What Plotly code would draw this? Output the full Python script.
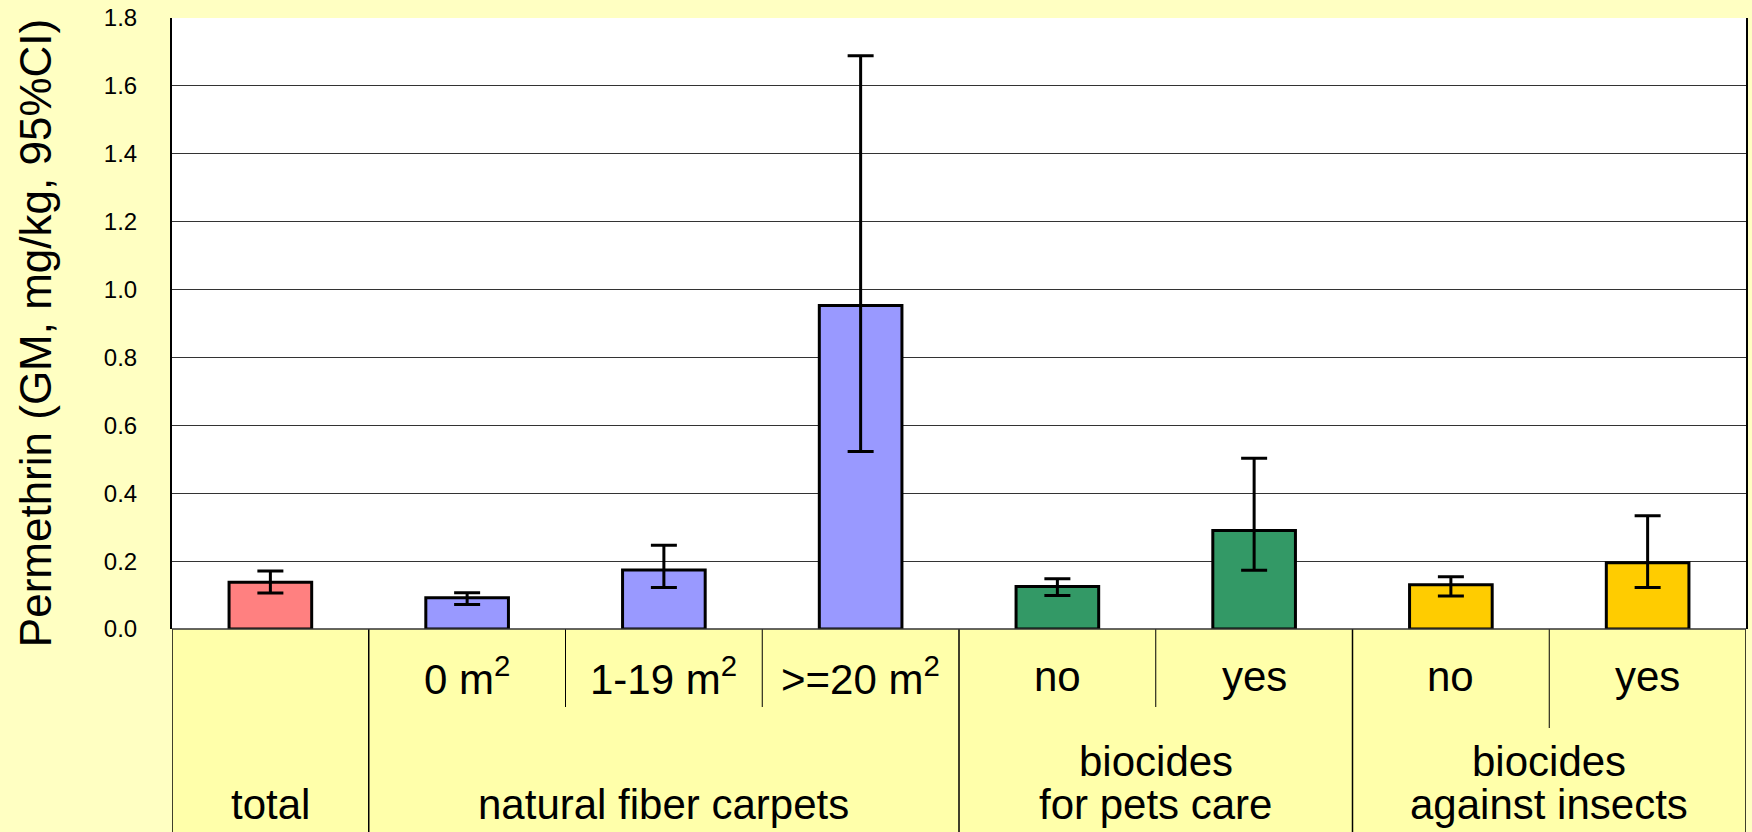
import plotly.graph_objects as go

# ---------------- data ----------------
groups = [["total"], ["natural fiber carpets"], ["biocides", "for pets care"], ["biocides", "against insects"]]
group_sizes = [1, 3, 2, 2]
subcats = ["", "0 m<sup>2</sup>", "1-19 m<sup>2</sup>", ">=20 m<sup>2</sup>", "no", "yes", "no", "yes"]
gm = [0.138, 0.092, 0.174, 0.953, 0.125, 0.290, 0.130, 0.195]
ci_low = [0.106, 0.072, 0.122, 0.523, 0.099, 0.173, 0.097, 0.122]
ci_high = [0.171, 0.107, 0.247, 1.689, 0.148, 0.503, 0.154, 0.334]
bar_colors = ["#FF8080", "#9999FF", "#9999FF", "#9999FF", "#339966", "#339966", "#FFCC00", "#FFCC00"]
y_tickvals = [0.0, 0.2, 0.4, 0.6, 0.8, 1.0, 1.2, 1.4, 1.6, 1.8]
y_ticktext = ["0.0", "0.2", "0.4", "0.6", "0.8", "1.0", "1.2", "1.4", "1.6", "1.8"]
y_title = "Permethrin (GM, mg/kg, 95%CI)"

# ---------------- layout geometry ----------------
W, H = 1752, 832
ML, MR, MT, MB = 172, 4, 18, 203
plot_h = H - MT - MB
plot_bottom_px = H - MB
BG = "#FFFFC2"


def py(px):
    """pixel y (from top) -> paper y"""
    return (plot_bottom_px - px) / plot_h


FONT = "Liberation Sans, Arial, sans-serif"
n = len(gm)
xs = list(range(n))

fig = go.Figure()
fig.add_trace(go.Bar(
    x=xs, y=gm,
    marker=dict(color=bar_colors, line=dict(color="black", width=3)),
    width=0.42,
    error_y=dict(type="data", symmetric=False,
                 array=[h - g for h, g in zip(ci_high, gm)],
                 arrayminus=[g - l for g, l in zip(gm, ci_low)],
                 color="black", thickness=3, width=13),
    showlegend=False,
))

shapes = []
# table background
shapes.append(dict(type="rect", xref="paper", yref="paper", x0=0, x1=1,
                   y0=py(H + 5), y1=0, fillcolor="#FFFFAA", line=dict(width=0), layer="below"))
# major group dividers
bounds = [-0.5]
for s in group_sizes:
    bounds.append(bounds[-1] + s)
for b in bounds:
    shapes.append(dict(type="line", xref="x", yref="paper", x0=b, x1=b,
                       y0=0, y1=py(H + 5), line=dict(color="black", width=1.5)))
# minor dividers within groups
minor_bottom_px = [707, 707, 707, 728]
start = -0.5
for gi, s in enumerate(group_sizes):
    for k in range(1, s):
        xb = start + k
        shapes.append(dict(type="line", xref="x", yref="paper", x0=xb, x1=xb,
                           y0=0, y1=py(minor_bottom_px[gi]), line=dict(color="black", width=1)))
    start += s
# baseline
shapes.append(dict(type="line", xref="paper", yref="paper", x0=0, x1=1, y0=0, y1=0,
                   line=dict(color="#333333", width=1.5)))

annotations = []
LABEL_SIZE = 42
for i, lab in enumerate(subcats):
    if lab:
        annotations.append(dict(x=i, y=py(676), xref="x", yref="paper", text=lab,
                                showarrow=False, yanchor="middle",
                                font=dict(family=FONT, size=LABEL_SIZE, color="black")))
start = -0.5
LAST_LINE_PX = 804
LINE_GAP_PX = 43
for lines, s in zip(groups, group_sizes):
    for j, line in enumerate(lines):
        ypx = LAST_LINE_PX - (len(lines) - 1 - j) * LINE_GAP_PX
        annotations.append(dict(x=start + s / 2, y=py(ypx), xref="x", yref="paper", text=line,
                                showarrow=False, yanchor="middle",
                                font=dict(family=FONT, size=LABEL_SIZE, color="black")))
    start += s
annotations.append(dict(x=(35 - ML) / (W - ML - MR), y=py(333), xref="paper", yref="paper",
                        text=y_title, textangle=-90, showarrow=False,
                        xanchor="center", yanchor="middle",
                        font=dict(family=FONT, size=44, color="black")))

fig.update_layout(
    width=W, height=H,
    margin=dict(l=ML, r=MR, t=MT, b=MB, pad=0),
    paper_bgcolor=BG,
    plot_bgcolor="white",
    bargap=0.58,
    shapes=shapes,
    annotations=annotations,
    xaxis=dict(range=[-0.5, n - 0.5], showticklabels=False, showgrid=False,
               zeroline=False, showline=False, fixedrange=True),
    yaxis=dict(range=[0, 1.8], tickvals=y_tickvals, ticktext=y_ticktext,
               tickfont=dict(family=FONT, size=24, color="black"),
               showgrid=True, gridcolor="#333333", gridwidth=1,
               zeroline=False, showline=True, linecolor="black", linewidth=2,
               mirror=True, ticks="", ticklabelstandoff=28),
)

fig.write_html("out.html",
               config={"displayModeBar": False},
               post_script="document.body.style.margin='0';document.body.style.overflow='hidden';"
                           "document.body.style.background='" + BG + "';")
